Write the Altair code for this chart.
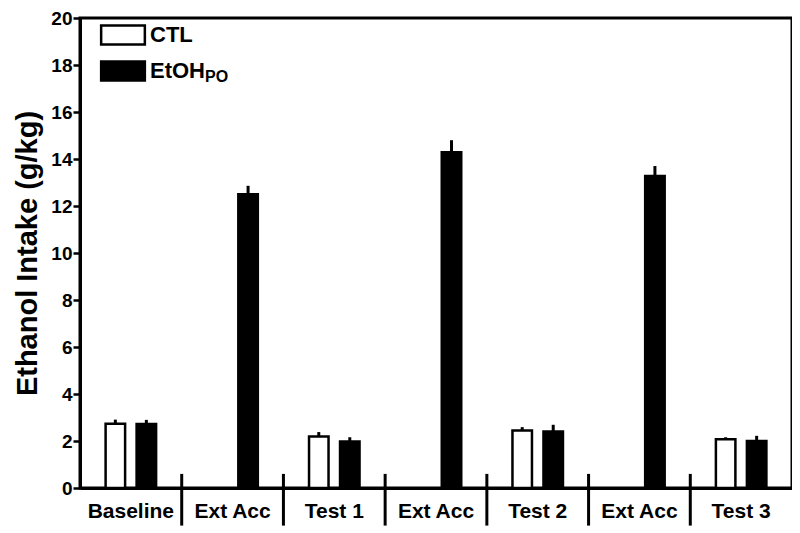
import altair as alt
import pandas as pd

slots = list(range(7))
categories = ["Baseline", "Ext Acc", "Test 1", "Ext Acc", "Test 2", "Ext Acc", "Test 3"]
groups = ["CTL", "EtOH"]
ctl_mean = [2.73, None, 2.19, None, 2.45, None, 2.07]
ctl_sem = [0.18, None, 0.19, None, 0.14, None, 0.09]
etoh_mean = [2.72, 12.50, 1.98, 14.29, 2.40, 13.28, 2.00]
etoh_sem = [0.18, 0.36, 0.18, 0.51, 0.29, 0.42, 0.22]
y_ticks = list(range(0, 21, 2))

rows = []
for i in slots:
    if ctl_mean[i] is not None:
        rows.append(dict(slot=i, group="CTL", mean=ctl_mean[i], top=ctl_mean[i] + ctl_sem[i]))
    rows.append(dict(slot=i, group="EtOH", mean=etoh_mean[i], top=etoh_mean[i] + etoh_sem[i]))
df = pd.DataFrame(rows)
div = pd.DataFrame({"slot": slots[1:]})

FONT = "Liberation Sans"
label_expr = "[" + ",".join("'" + c + "'" for c in categories) + "][datum.value]"

xscale = alt.Scale(domain=slots, paddingInner=0, paddingOuter=0)
x = alt.X("slot:O", scale=xscale, title=None,
          axis=alt.Axis(labelExpr=label_expr, ticks=False, labelAngle=0,
                        labelFont=FONT, labelFontSize=21, labelFontWeight="bold",
                        labelColor="black", labelPadding=12,
                        domainColor="black", domainWidth=3))
xo = alt.XOffset("group:N", scale=alt.Scale(domain=groups, paddingInner=0.371, paddingOuter=0.826))
yscale = alt.Scale(domain=[0, 20])
y = alt.Y("mean:Q", scale=yscale, title="Ethanol Intake (g/kg)",
          axis=alt.Axis(values=y_ticks, grid=False, tickSize=7, tickWidth=2.5, tickColor="black",
                        labelFont=FONT, labelFontSize=19, labelFontWeight="bold",
                        labelColor="black", labelPadding=1,
                        domainColor="black", domainWidth=3,
                        titleFont=FONT, titleFontSize=29, titleFontWeight="bold",
                        titleColor="black", titlePadding=8))

base = alt.Chart(df)
bars = base.mark_bar(stroke="black", strokeWidth=2.5).encode(
    x=x, xOffset=xo, y=y,
    fill=alt.Fill("group:N", scale=alt.Scale(domain=groups, range=["white", "black"]),
                  legend=alt.Legend(title=None, orient="none", legendX=32, legendY=6,
                                    symbolType="M-2.3,-1H2.3V1H-2.3Z", symbolSize=361,
                                    symbolStrokeColor="black", symbolStrokeWidth=2.5,
                                    symbolOpacity=1, labelOffset=16,
                                    labelFont=FONT, labelFontSize=22, labelFontWeight="bold",
                                    labelColor="black", rowPadding=6, padding=0))
)
err = base.mark_rule(color="black", strokeWidth=3).encode(
    x=x, xOffset=xo, y="mean:Q", y2="top:Q"
)
dividers = alt.Chart(div).mark_rule(color="black", strokeWidth=3).encode(
    x=alt.X("slot:O", bandPosition=0),
    y=alt.datum(0.6), y2=alt.datum(-1.6)
)
sub = alt.Chart(pd.DataFrame({"t": ["PO"]})).mark_text(
    font=FONT, fontSize=16, fontWeight="bold", color="black", align="left", baseline="alphabetic"
).encode(x=alt.value(125), y=alt.value(64), text="t:N")

chart = alt.layer(bars, err, dividers, sub).properties(
    width=712, height=470,
    autosize=alt.AutoSizeParams(type="none"),
    padding={"left": 72, "top": 10, "right": 0, "bottom": 40},
).configure_view(stroke="black", strokeWidth=3)

chart.save("out.html", embed_options={"renderer": "svg", "actions": False})
